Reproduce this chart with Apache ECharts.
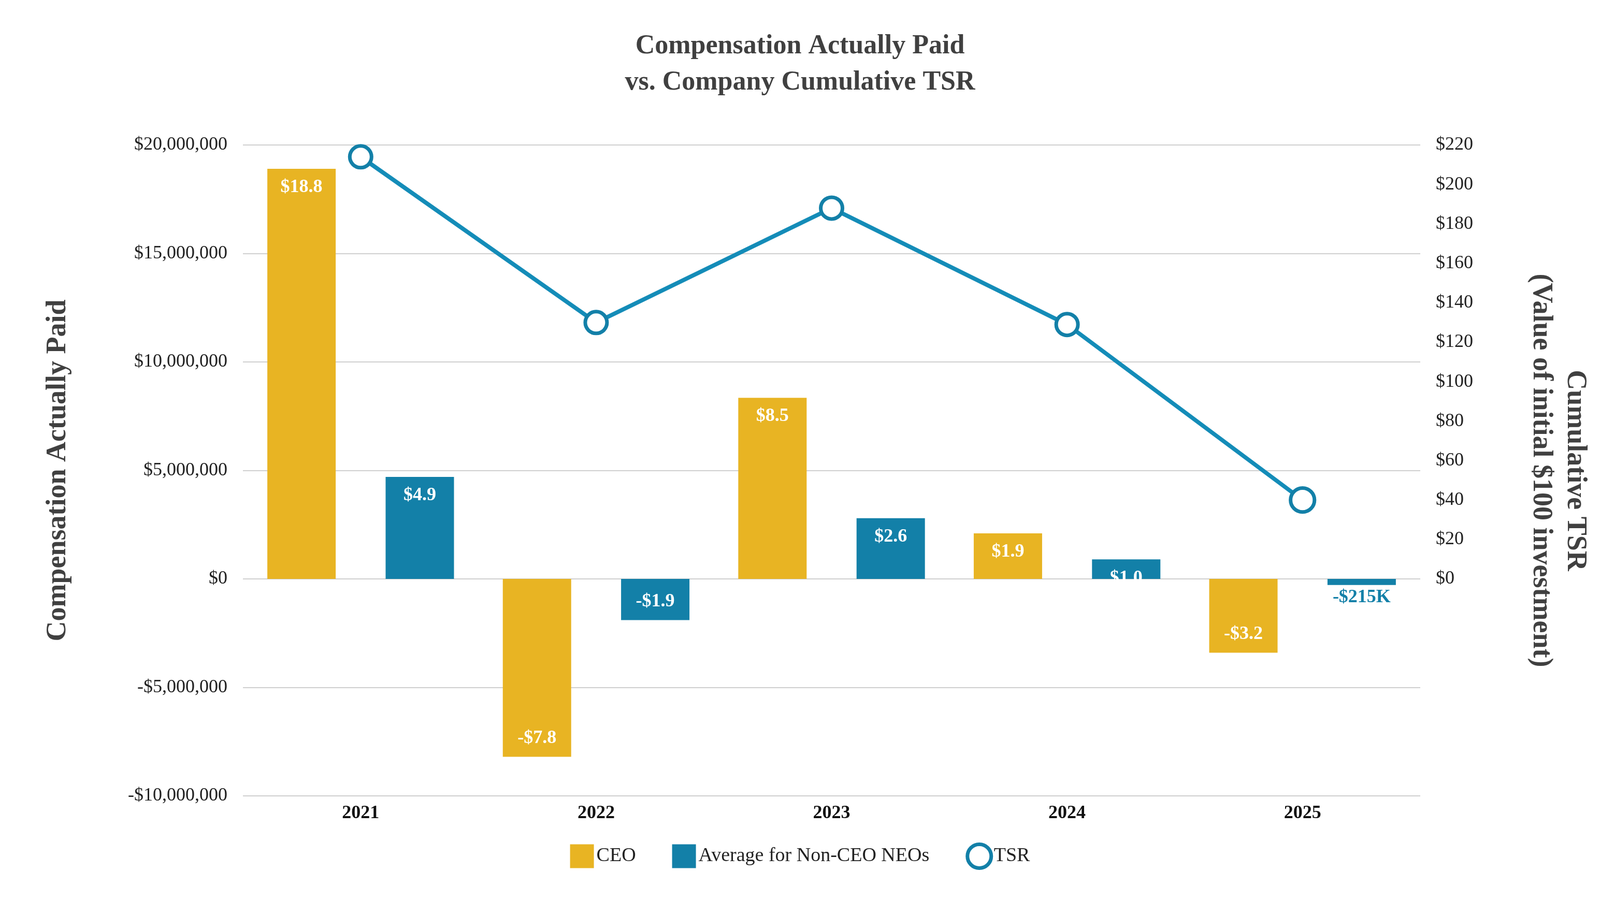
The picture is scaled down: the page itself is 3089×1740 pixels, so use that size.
<!DOCTYPE html>
<html lang="en">
<head>
    <meta charset="UTF-8">
    <title>Compensation Actually Paid vs. TSR</title>
    <script src="https://cdn.jsdelivr.net/npm/echarts@6/dist/echarts.min.js"></script>
    <style>
        html, body { margin: 0; padding: 0; background: #fff; }
        #main { width: 3089px; height: 1740px; }
    </style>
</head>
<body>
<div id="main"></div>
<script>
    var years = ['2021', '2022', '2023', '2024', '2025'];
    var ceoValues = [18900000, -8200000, 8350000, 2100000, -3400000];
    var ceoLabels = ['$18.8', '-$7.8', '$8.5', '$1.9', '-$3.2'];
    var neoValues = [4700000, -1900000, 2800000, 900000, -280000];
    var neoLabels = ['$4.9', '-$1.9', '$2.6', '$1.0', '-$215K'];
    var tsrValues = [214, 130, 188, 129, 40];

    var FONT = '"Liberation Serif", "DejaVu Serif", serif';
    var GOLD = '#E8B423';
    var BLUE = '#1380A8';

    function barData(values, labels, color) {
        return values.map(function (v, i) {
            var item = { value: v, itemStyle: { color: color } };
            if (labels[i] === '-$215K') {
                item.label = { position: 'bottom', color: BLUE, distance: 6 };
            } else {
                item.label = { position: v < 0 ? 'insideBottom' : 'insideTop' };
            }
            return item;
        });
    }

    function moneyFmt(v) {
        var s = Math.abs(v).toString().replace(/\B(?=(\d{3})+(?!\d))/g, ',');
        return (v < 0 ? '-$' : '$') + s;
    }

    var myChart = echarts.init(document.getElementById('main'));
    var option = {
        backgroundColor: '#fff',
        textStyle: { fontFamily: FONT },
        title: {
            text: 'Compensation Actually Paid\nvs. Company Cumulative TSR',
            left: 'center',
            top: 50,
            textStyle: { fontFamily: FONT, fontSize: 52, fontWeight: 'bold', color: '#404040', lineHeight: 70 }
        },
        legend: {
            bottom: 55,
            left: 'center',
            itemGap: 70,
            itemWidth: 46,
            itemHeight: 46,
            textStyle: { fontFamily: FONT, fontSize: 38, color: '#222' },
            data: [
                { name: 'CEO', icon: 'rect' },
                { name: 'Average for Non-CEO NEOs', icon: 'rect' },
                { name: 'TSR', icon: 'circle', itemStyle: { color: '#fff', borderColor: BLUE, borderWidth: 7 } }
            ]
        },
        grid: { left: 469, right: 347, top: 280, bottom: 203 },
        xAxis: {
            type: 'category',
            data: years,
            axisLine: { show: false, onZero: true },
            axisTick: { show: false },
            axisLabel: { fontFamily: FONT, fontSize: 36, fontWeight: 'bold', color: '#111', margin: 16 }
        },
        yAxis: [
            {
                type: 'value',
                min: -10000000,
                max: 20000000,
                interval: 5000000,
                name: 'Compensation Actually Paid',
                nameLocation: 'middle',
                nameGap: 330,
                nameTextStyle: { fontFamily: FONT, fontSize: 54, fontWeight: 'bold', color: '#404040' },
                axisLabel: { fontFamily: FONT, fontSize: 36, color: '#222', formatter: moneyFmt, margin: 30 },
                splitLine: { lineStyle: { color: '#cfcfcf', width: 2 } }
            },
            {
                type: 'value',
                min: -110,
                max: 220,
                interval: 10,
                position: 'right',
                name: 'Cumulative TSR\n(Value of initial $100 investment)',
                nameLocation: 'middle',
                nameRotate: -90,
                nameGap: 200,
                nameTextStyle: { fontFamily: FONT, fontSize: 54, fontWeight: 'bold', color: '#404040', lineHeight: 66 },
                axisLabel: {
                    fontFamily: FONT, fontSize: 36, color: '#222', margin: 30,
                    formatter: function (v) { return (v >= 0 && v % 20 === 0) ? '$' + v : ''; }
                },
                splitLine: { show: false }
            }
        ],
        series: [
            {
                name: 'CEO',
                type: 'bar',
                barWidth: 132,
                barGap: '73%',
                itemStyle: { color: GOLD },
                label: {
                    show: true, fontFamily: FONT, fontSize: 36, fontWeight: 'bold', color: '#fff', distance: 18,
                    formatter: function (p) { return ceoLabels[p.dataIndex]; }
                },
                data: barData(ceoValues, ceoLabels, GOLD)
            },
            {
                name: 'Average for Non-CEO NEOs',
                type: 'bar',
                barWidth: 132,
                itemStyle: { color: BLUE },
                label: {
                    show: true, fontFamily: FONT, fontSize: 36, fontWeight: 'bold', color: '#fff', distance: 18,
                    formatter: function (p) { return neoLabels[p.dataIndex]; }
                },
                data: barData(neoValues, neoLabels, BLUE)
            },
            {
                name: 'TSR',
                type: 'line',
                yAxisIndex: 1,
                symbol: 'circle',
                symbolSize: 42,
                lineStyle: { color: BLUE, width: 8 },
                itemStyle: { color: '#fff', borderColor: BLUE, borderWidth: 7 },
                z: 5,
                data: tsrValues
            }
        ]
    };
    myChart.setOption(option);
</script>
</body>
</html>
